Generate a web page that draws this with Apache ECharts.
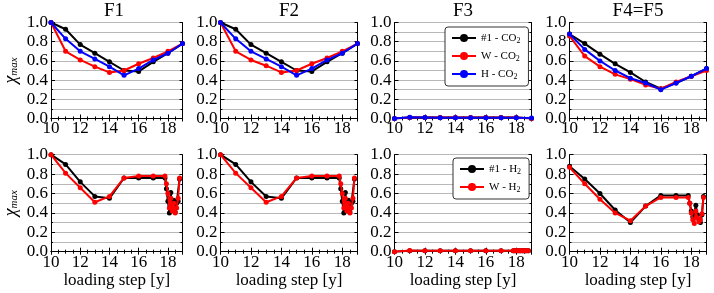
<!DOCTYPE html>
<html><head><meta charset="utf-8">
<script src="https://cdn.jsdelivr.net/npm/echarts@6/dist/echarts.min.js"></script>
<style>html,body{margin:0;padding:0;background:#fff}#c{width:714px;height:293px}</style>
</head><body><div id="c"></div>
<script>
// ---- data ----
const stepsCO2 = [10, 11, 12, 13, 14, 15, 16, 17, 18, 19];
const stepsH2 = [10, 11, 12, 13, 14, 15, 16, 17, 17.8, 17.9, 18, 18.1, 18.2, 18.3, 18.4, 18.5, 18.6, 18.7, 18.8];
const panelTitles = ['F1', 'F2', 'F3', 'F4=F5'];

const f1_1_CO2 = [1.00, 0.93, 0.77, 0.68, 0.59, 0.50, 0.49, 0.59, 0.68, 0.78];
const f1_W_CO2 = [1.00, 0.70, 0.61, 0.54, 0.48, 0.50, 0.57, 0.63, 0.70, 0.78];
const f1_H_CO2 = [1.00, 0.83, 0.70, 0.62, 0.54, 0.45, 0.52, 0.61, 0.68, 0.78];
const f2_1_CO2 = [1.00, 0.93, 0.77, 0.68, 0.59, 0.50, 0.49, 0.59, 0.68, 0.78];
const f2_W_CO2 = [1.00, 0.70, 0.61, 0.55, 0.48, 0.50, 0.57, 0.63, 0.70, 0.78];
const f2_H_CO2 = [1.00, 0.83, 0.70, 0.62, 0.54, 0.45, 0.52, 0.61, 0.68, 0.78];
const f3_1_CO2 = [0.00, 0.01, 0.01, 0.01, 0.01, 0.01, 0.01, 0.01, 0.01, 0.00];
const f3_W_CO2 = [0.00, 0.01, 0.01, 0.01, 0.01, 0.01, 0.01, 0.01, 0.01, 0.00];
const f3_H_CO2 = [0.00, 0.012, 0.01, 0.008, 0.008, 0.008, 0.008, 0.008, 0.008, 0.005];
const f4_1_CO2 = [0.88, 0.78, 0.67, 0.57, 0.48, 0.38, 0.31, 0.37, 0.44, 0.52];
const f4_W_CO2 = [0.86, 0.65, 0.54, 0.46, 0.41, 0.35, 0.31, 0.38, 0.44, 0.50];
const f4_H_CO2 = [0.88, 0.72, 0.60, 0.50, 0.42, 0.37, 0.30, 0.37, 0.44, 0.52];

const f1_1_H2 = [1.00, 0.90, 0.72, 0.57, 0.55, 0.76, 0.76, 0.76, 0.76, 0.65, 0.52, 0.40, 0.61, 0.45, 0.53, 0.41, 0.50, 0.52, 0.75];
const f1_W_H2 = [1.00, 0.81, 0.66, 0.51, 0.57, 0.76, 0.78, 0.78, 0.78, 0.70, 0.60, 0.45, 0.55, 0.42, 0.50, 0.40, 0.45, 0.55, 0.76];
const f2_1_H2 = [1.00, 0.90, 0.72, 0.57, 0.55, 0.76, 0.76, 0.76, 0.76, 0.65, 0.52, 0.40, 0.61, 0.45, 0.53, 0.41, 0.50, 0.52, 0.75];
const f2_W_H2 = [1.00, 0.81, 0.66, 0.51, 0.57, 0.76, 0.78, 0.78, 0.78, 0.70, 0.60, 0.45, 0.55, 0.42, 0.50, 0.40, 0.45, 0.55, 0.76];
const f3_1_H2 = [0.00, 0.01, 0.01, 0.01, 0.01, 0.01, 0.01, 0.01, 0.01, 0.01, 0.01, 0.01, 0.01, 0.01, 0.01, 0.01, 0.01, 0.01, 0.01];
const f3_W_H2 = [0.00, 0.012, 0.01, 0.01, 0.01, 0.01, 0.01, 0.01, 0.01, 0.01, 0.01, 0.01, 0.01, 0.01, 0.01, 0.01, 0.01, 0.01, 0.01];
const f4_1_H2 = [0.88, 0.75, 0.60, 0.43, 0.30, 0.47, 0.58, 0.58, 0.58, 0.50, 0.42, 0.36, 0.40, 0.48, 0.38, 0.33, 0.30, 0.38, 0.57];
const f4_W_H2 = [0.87, 0.70, 0.54, 0.40, 0.32, 0.47, 0.56, 0.56, 0.56, 0.50, 0.40, 0.33, 0.29, 0.42, 0.35, 0.31, 0.33, 0.39, 0.56];

const seriesNamesCO2 = ['#1 - CO2', 'W - CO2', 'H - CO2'];
const seriesNamesH2 = ['#1 - H2', 'W - H2'];
const colorsCO2 = ['#000000', '#ff0000', '#0000ff'];
const colorsH2 = ['#000000', '#ff0000'];

const topData = [[f1_1_CO2, f1_W_CO2, f1_H_CO2], [f2_1_CO2, f2_W_CO2, f2_H_CO2], [f3_1_CO2, f3_W_CO2, f3_H_CO2], [f4_1_CO2, f4_W_CO2, f4_H_CO2]];
const botData = [[f1_1_H2, f1_W_H2], [f2_1_H2, f2_W_H2], [f3_1_H2, f3_W_H2], [f4_1_H2, f4_W_H2]];

// ---- layout ----
const FONT = 'Liberation Serif';
const colLeft = [45.5, 220.5, 394.5, 569.5];
const W = 137;
const rowTop = [22.5, 154.7];
const H = [96, 97];

const grids = [], xAxes = [], yAxes = [], series = [], graphics = [];
const axisLineStyle = { color: '#000', width: 1 };
for (let r = 0; r < 2; r++) {
  for (let c = 0; c < 4; c++) {
    const gi = grids.length;
    grids.push({ left: colLeft[c], top: rowTop[r], width: W, height: H[r] });
    xAxes.push({
      gridIndex: gi, type: 'value', min: 10, max: 19, interval: 2, position: 'bottom',
      name: r === 1 ? 'loading step [y]' : '', nameLocation: 'middle', nameGap: 20,
      nameTextStyle: { fontFamily: FONT, fontSize: 17, color: '#000' },
      axisLine: { show: true, lineStyle: axisLineStyle },
      axisTick: { show: true, inside: true, length: 4, lineStyle: { color: '#000' } },
      minorTick: { show: true, splitNumber: 4, length: 2, lineStyle: { color: '#000' } },
      axisLabel: { fontFamily: FONT, fontSize: 17, color: '#000', margin: 2,
        formatter: v => (v % 2 === 0 ? String(v) : '') },
      splitLine: { show: false }
    });
    xAxes.push({
      gridIndex: gi, type: 'value', min: 10, max: 19, interval: 2, position: 'top',
      axisLine: { show: true, lineStyle: axisLineStyle },
      axisTick: { show: true, inside: true, length: 3, lineStyle: { color: '#000' } },
      minorTick: { show: true, splitNumber: 4, length: 2, lineStyle: { color: '#000' } },
      axisLabel: { show: false }, splitLine: { show: false }
    });
    yAxes.push({
      gridIndex: gi, type: 'value', min: 0, max: 1, interval: 0.2, position: 'left',
      name: c === 0 ? '{c|χ}{s|max}' : '', nameLocation: 'middle', nameGap: 31, nameRotate: 90,
      nameTextStyle: { color: '#000', rich: {
        c: { fontFamily: FONT, fontStyle: 'italic', fontSize: 18, color: '#000', lineHeight: 18, verticalAlign: 'middle' },
        s: { fontFamily: FONT, fontStyle: 'italic', fontSize: 11, color: '#000', lineHeight: 18, verticalAlign: 'bottom', padding: [8, 0, 0, 0] }
      } },
      axisLine: { show: true, lineStyle: axisLineStyle },
      axisTick: { show: true, inside: true, length: 4, lineStyle: { color: '#000' } },
      minorTick: { show: true, splitNumber: 2, length: 2, lineStyle: { color: '#000' } },
      axisLabel: { fontFamily: FONT, fontSize: 17, color: '#000', margin: 3, formatter: v => v.toFixed(1) },
      splitLine: { show: true, lineStyle: { color: '#b8b8b8', width: 1 } },
      minorSplitLine: { show: true, lineStyle: { color: '#b8b8b8', width: 1 } }
    });
    yAxes.push({
      gridIndex: gi, type: 'value', min: 0, max: 1, interval: 0.2, position: 'right',
      axisLine: { show: true, lineStyle: axisLineStyle },
      axisTick: { show: true, inside: true, length: 3, lineStyle: { color: '#000' } },
      minorTick: { show: true, splitNumber: 2, length: 2, lineStyle: { color: '#000' } },
      axisLabel: { show: false }, splitLine: { show: false }
    });
    const xs = r === 0 ? stepsCO2 : stepsH2;
    const sets = r === 0 ? topData[c] : botData[c];
    const names = r === 0 ? seriesNamesCO2 : seriesNamesH2;
    const cols = r === 0 ? colorsCO2 : colorsH2;
    sets.forEach((arr, k) => {
      series.push({
        type: 'line', name: names[k], xAxisIndex: gi * 2, yAxisIndex: gi * 2,
        data: xs.map((x, j) => [x, arr[j]]),
        symbol: 'circle', symbolSize: 5, showSymbol: true,
        lineStyle: { color: cols[k], width: 2 }, itemStyle: { color: cols[k] },
        z: 2 + k, animation: false
      });
    });
    if (r === 0) {
      graphics.push({ type: 'text', x: colLeft[c] + W / 2, y: 2,
        style: { text: panelTitles[c], fontFamily: FONT, fontSize: 19, fill: '#000', align: 'center', verticalAlign: 'top' } });
    }
  }
}

const subFmt = n => '{t|' + n.slice(0, -1) + '}{s|' + n.slice(-1) + '}';
const legendRich = {
  t: { fontFamily: FONT, fontSize: 11, color: '#000', lineHeight: 14, verticalAlign: 'middle' },
  s: { fontFamily: FONT, fontSize: 8, color: '#000', lineHeight: 14, verticalAlign: 'bottom', padding: [5, 0, 0, 0] }
};
const legendCommon = {
  orient: 'vertical', itemWidth: 24, itemHeight: 10, itemGap: 5,
  backgroundColor: '#fff', borderColor: '#333', borderWidth: 1, borderRadius: 3,
  formatter: subFmt, textStyle: { rich: legendRich }, selectedMode: false, z: 10
};

const option = {
  animation: false,
  grid: grids, xAxis: xAxes, yAxis: yAxes, series: series,
  legend: [
    Object.assign({}, legendCommon, { data: seriesNamesCO2, left: 445, top: 27, padding: [5, 8, 5, 6] }),
    Object.assign({}, legendCommon, { data: seriesNamesH2, left: 453, top: 158, padding: [5, 8, 5, 6] })
  ],
  graphic: graphics
};
const chart = echarts.init(document.getElementById('c'), null, { renderer: 'canvas' });
chart.setOption(option);
</script></body></html>
